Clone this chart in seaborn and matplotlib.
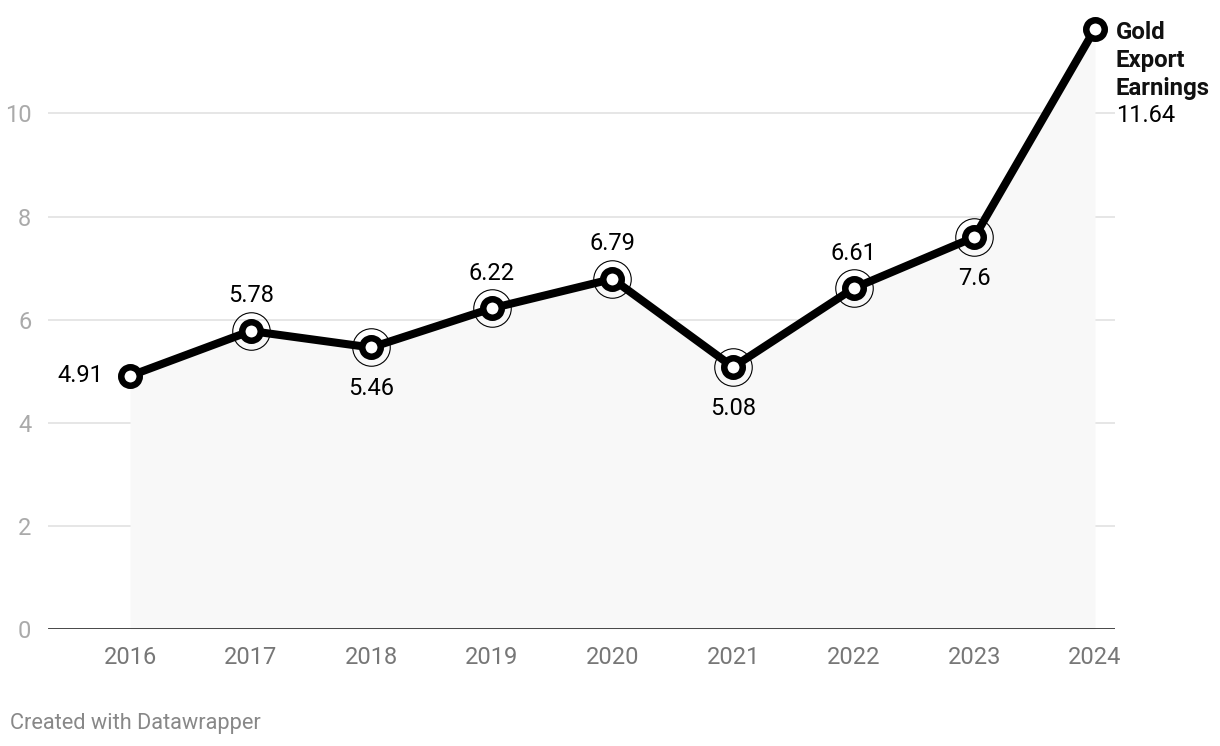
import numpy as np
import pandas as pd
import matplotlib
matplotlib.use("Agg")
import matplotlib.pyplot as plt
import seaborn as sns

years = [2016, 2017, 2018, 2019, 2020, 2021, 2022, 2023, 2024]
earnings = [4.91, 5.78, 5.46, 6.22, 6.79, 5.08, 6.61, 7.6, 11.64]
value_labels = ["4.91", "5.78", "5.46", "6.22", "6.79", "5.08", "6.61", "7.6", "11.64"]
label_side = ["left", "above", "below", "above", "above", "below", "above", "below", "right"]
series_name = ["Gold", "Export", "Earnings"]
y_ticks = [0, 2, 4, 6, 8, 10]

df = pd.DataFrame({"year": years, "value": earnings})

sns.set_style("white")
plt.rcParams["font.family"] = ["Roboto", "DejaVu Sans"]

fig = plt.figure(figsize=(12.2, 7.46), dpi=100)
ax = fig.add_axes([48 / 1220, 117 / 746, (1115 - 48) / 1220, 629 / 746])

# light area under the line
ax.fill_between(years, earnings, 0, color="#f8f8f8", zorder=1, linewidth=0)

for t in y_ticks[1:]:
    ax.axhline(t, color="#e2e2e2", linewidth=1.2, zorder=0.5)
ax.axhline(0, color="#111111", linewidth=1.8, zorder=3)

sns.lineplot(data=df, x="year", y="value", color="black", linewidth=5.8,
             ax=ax, zorder=4, solid_capstyle="round", solid_joinstyle="round")

# thin halo rings around the middle points
mid = df.iloc[1:-1]
ax.plot(mid["year"], mid["value"], linestyle="none", marker="o", markersize=27,
        markerfacecolor="none", markeredgecolor="black", markeredgewidth=0.8, zorder=3.5)
ax.plot(df["year"], df["value"], linestyle="none", marker="o", markersize=13.3,
        markerfacecolor="white", markeredgecolor="black", markeredgewidth=4.7, zorder=5)

fs = 17
for x, y, lab, side in zip(years, earnings, value_labels, label_side):
    if side == "above":
        ax.annotate(lab, (x, y), xytext=(0, 35), textcoords="offset pixels",
                    ha="center", va="center", fontsize=fs, color="black")
    elif side == "below":
        ax.annotate(lab, (x, y), xytext=(0, -41), textcoords="offset pixels",
                    ha="center", va="center", fontsize=fs, color="black")
    elif side == "left":
        ax.annotate(lab, (x, y), xytext=(-27, 0), textcoords="offset pixels",
                    ha="right", va="center", fontsize=fs, color="black")
    else:
        for i, word in enumerate(series_name):
            ax.annotate(word, (x, y), xytext=(21, -4 - 28 * i), textcoords="offset pixels",
                        ha="left", va="center", fontsize=17.3, fontweight="bold", color="#111111")
        ax.annotate(lab, (x, y), xytext=(21, -87), textcoords="offset pixels",
                    ha="left", va="center", fontsize=fs, color="black")

ax.set_xlim(2015.32, 2024.166)
ax.set_ylim(0, 12.2)
ax.set_xticks(years)
ax.set_xticklabels([str(y) for y in years], fontsize=fs, color="#777777")
ax.set_yticks(y_ticks)
ax.set_yticklabels([str(t) for t in y_ticks], fontsize=fs, color="#aaaaaa")
ax.tick_params(axis="both", length=0)
ax.tick_params(axis="x", pad=12)
ax.tick_params(axis="y", pad=12)
ax.set_xlabel("")
ax.set_ylabel("")
for s in ax.spines.values():
    s.set_visible(False)
ax.patch.set_alpha(0)

fig.text(10 / 1220, 1 - 724 / 746, "Created with Datawrapper", fontsize=15.7,
         color="#888888", ha="left", va="center")

fig.savefig("out.png", dpi=100)
